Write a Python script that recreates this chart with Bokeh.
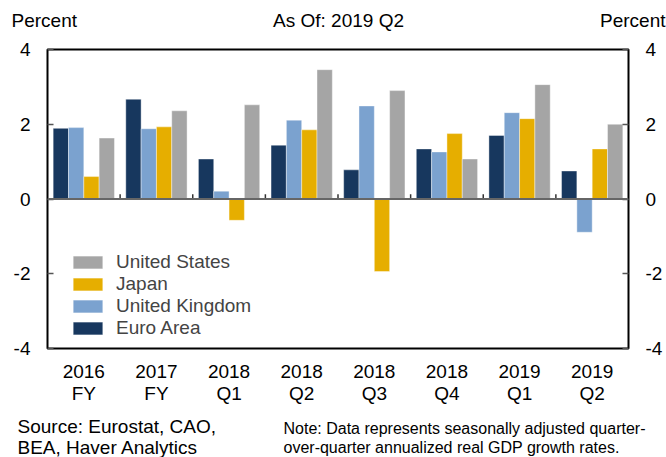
from bokeh.plotting import figure
from bokeh.layouts import column
from bokeh.models import (ColumnDataSource, FixedTicker, LinearAxis, Range1d, Span,
                          Legend, LegendItem)
from bokeh.core.properties import value
from bokeh.transform import dodge
from bokeh.embed import file_html
from bokeh.resources import INLINE

# ---- data ----
periods = ["2016\nFY", "2017\nFY", "2018\nQ1", "2018\nQ2",
           "2018\nQ3", "2018\nQ4", "2019\nQ1", "2019\nQ2"]
euro_area = [1.89, 2.67, 1.07, 1.44, 0.78, 1.34, 1.70, 0.75]
united_kingdom = [1.91, 1.88, 0.21, 2.11, 2.49, 1.26, 2.31, -0.89]
japan = [0.60, 1.93, -0.57, 1.85, -1.94, 1.75, 2.15, 1.34]
united_states = [1.63, 2.36, 2.52, 3.46, 2.90, 1.07, 3.06, 2.00]
y_ticks = [-4, -2, 0, 2, 4]
y_tick_labels = ["-4", "-2", "0", "2", "4"]

header_texts = ["Percent", "As Of: 2019 Q2", "Percent"]
source_lines = ["Source: Eurostat, CAO,", "BEA, Haver Analytics"]
note_lines = ["Note: Data represents seasonally adjusted quarter-",
              "over-quarter annualized real GDP growth rates."]

FONT = "Liberation Sans"
C_EURO = "#17375E"
C_UK = "#7BA2CF"
C_JP = "#E6AE00"
C_US = "#A5A5A5"

W = 666


def text_strip(height):
    f = figure(width=W, height=height, output_backend="svg", toolbar_location=None,
               x_range=Range1d(0, W), y_range=Range1d(height, 0),
               x_axis_location=None, y_axis_location=None, min_border=0,
               frame_align=False)
    f.grid.visible = False
    f.outline_line_color = None
    f.background_fill_color = "white"
    f.border_fill_color = "white"
    return f


# ---- header ----
header = text_strip(36)
header.text(x=[11], y=[20], text=[header_texts[0]], text_font=value(FONT),
            text_font_size="19px", text_align="left", text_baseline="middle", text_color="black")
header.text(x=[338], y=[20], text=[header_texts[1]], text_font=value(FONT),
            text_font_size="19px", text_align="center", text_baseline="middle", text_color="black")
header.text(x=[665], y=[20], text=[header_texts[2]], text_font=value(FONT),
            text_font_size="19px", text_align="right", text_baseline="middle", text_color="black")

# ---- main chart ----
xs = list(range(1, len(periods) + 1))
src = ColumnDataSource(dict(x=xs, euro=euro_area, uk=united_kingdom,
                            jp=japan, us=united_states))

main = figure(width=W, height=374, output_backend="svg", toolbar_location=None,
              x_range=Range1d(0.5, len(periods) + 0.5), y_range=Range1d(-4, 4),
              min_border_left=47, min_border_right=38, min_border_top=13,
              min_border_bottom=62, frame_align=False)
main.grid.visible = False
main.outline_line_color = "black"
main.outline_line_width = 2
main.background_fill_color = "white"
main.border_fill_color = "white"

bw = 0.211
bar_kw = dict(width=bw, source=src, line_color="white", line_alpha=0.4, line_width=1)
r_euro = main.vbar(x=dodge("x", -1.5 * bw), top="euro", fill_color=C_EURO, **bar_kw)
r_uk = main.vbar(x=dodge("x", -0.5 * bw), top="uk", fill_color=C_UK, **bar_kw)
r_jp = main.vbar(x=dodge("x", 0.5 * bw), top="jp", fill_color=C_JP, **bar_kw)
r_us = main.vbar(x=dodge("x", 1.5 * bw), top="us", fill_color=C_US, **bar_kw)

main.add_layout(Span(location=0, dimension="width", line_color="#666666", line_width=2))

# group separator ticks on the zero line
seps = [i + 1.5 for i in range(len(periods) - 1)]
main.segment(x0=seps, y0=[0] * len(seps), x1=seps, y1=[0.13] * len(seps),
             line_color="#333333", line_width=1.5)

xa = main.xaxis[0]
xa.ticker = FixedTicker(ticks=xs, minor_ticks=[])
xa.major_label_overrides = {x: lab for x, lab in zip(xs, periods)}
xa.axis_line_color = None
xa.major_tick_line_color = None
xa.minor_tick_line_color = None
xa.major_label_text_font = FONT
xa.major_label_text_font_size = "19px"
xa.major_label_text_color = "black"
xa.major_label_standoff = 6
xa.major_label_text_line_height = 1.05

ya = main.yaxis[0]
yr = LinearAxis()
main.add_layout(yr, "right")
for ax in (ya, yr):
    ax.ticker = FixedTicker(ticks=y_ticks, minor_ticks=[])
    ax.major_label_overrides = {t: s for t, s in zip(y_ticks, y_tick_labels)}
    ax.axis_line_color = None
    ax.major_tick_in = 6
    ax.major_tick_out = 0
    ax.major_tick_line_color = "#555555"
    ax.major_tick_line_width = 1.5
    ax.minor_tick_line_color = None
    ax.major_label_text_font = FONT
    ax.major_label_text_font_size = "19px"
    ax.major_label_text_color = "black"
    ax.major_label_standoff = 17

legend = Legend(items=[LegendItem(label="United States", renderers=[r_us]),
                       LegendItem(label="Japan", renderers=[r_jp]),
                       LegendItem(label="United Kingdom", renderers=[r_uk]),
                       LegendItem(label="Euro Area", renderers=[r_euro])],
                location=(22, 9), glyph_width=37, glyph_height=16, label_standoff=10,
                padding=0, margin=0, spacing=0, border_line_color=None,
                background_fill_alpha=0, label_text_font=FONT,
                label_text_font_size="19px", label_height=20)
main.add_layout(legend)

# ---- footer ----
footer = text_strip(47)
footer.text(x=[17, 17], y=[16, 37], text=source_lines, text_font=value(FONT),
            text_font_size="19px", text_align="left", text_baseline="middle", text_color="black")
footer.text(x=[283, 283], y=[18, 37], text=note_lines, text_font=value(FONT),
            text_font_size="16px", text_align="left", text_baseline="middle", text_color="black")

p = column(header, main, footer, spacing=0)
open("out.html", "w").write(file_html(p, INLINE))
